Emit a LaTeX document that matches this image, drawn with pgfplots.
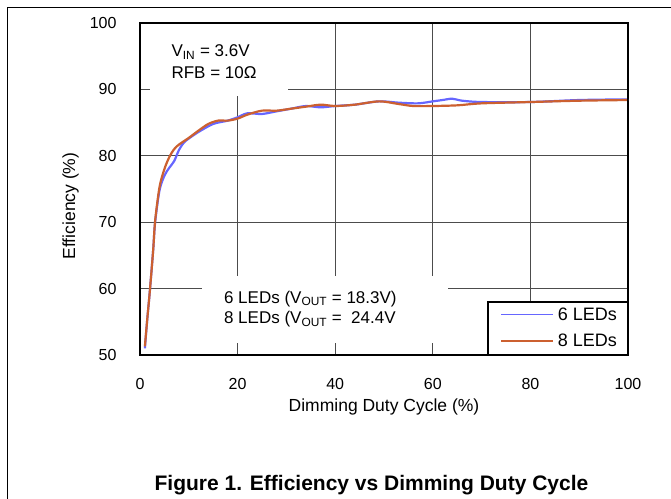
\documentclass[border=0pt]{standalone}
\usepackage{pgfplots}
\pgfplotsset{compat=1.18}
\usepackage{fontspec}
\setmainfont{Liberation Sans}
\definecolor{blueline}{RGB}{102,102,255}
\definecolor{orangeline}{RGB}{204,96,48}
\begin{document}
\begin{tikzpicture}
\useasboundingbox (-140pt,-143pt) rectangle (531pt,355pt);
\draw[line width=1pt] (-132pt,-150pt) -- (-132pt,347pt) -- (540pt,347pt);
\begin{axis}[
 at={(0pt,0pt)}, anchor=south west,
 scale only axis, width=488pt, height=332pt,
 xmin=0,xmax=100,ymin=50,ymax=100,
 xtick={0,20,...,100}, ytick={50,60,...,100},
 grid=major, major grid style={black!70, line width=0.8pt},
 major tick length=0pt,
 axis line style={line width=1.6pt},
 tick label style={font=\fontsize{16}{19}\selectfont},
 /pgf/number format/assume math mode=true,
 xticklabel style={yshift=-20pt},
 yticklabel style={xshift=-20pt},
 xlabel={Dimming Duty Cycle (\%)},
 ylabel={Efficiency (\%)},
 label style={font=\fontsize{17.5}{21}\selectfont},
 xlabel style={at={(axis description cs:0.5,-0.169)}, anchor=base},
 ylabel style={at={(axis description cs:-0.133,0.449)}, anchor=base},
 legend style={at={(rel axis cs:1,0)}, anchor=south east, draw=none, fill=none, font=\fontsize{18}{21}\selectfont, inner xsep=11pt, inner ysep=7pt, row sep=12pt, column sep=4pt, nodes={inner sep=0pt}, cells={anchor=west}},
 legend image code/.code={\draw[#1, line width=1.5pt] (0pt,0pt) -- (52pt,0pt);},
]
\fill[white] (axis cs:2.05,89) rectangle (axis cs:30.3,100);
\fill[white] (axis cs:12.7,51.8) rectangle (axis cs:63.1,61.9);
\fill[white] (axis cs:71.3,50) rectangle (axis cs:100,57.98);
\addplot[blueline, line width=2.2pt, smooth] coordinates {
(1,51.0) (1.5,55.5) (2,59.5) (2.7,65.8) (3.1,70) (4,74.8) (5,77.0) (6,78.2) (7,79.2) (8,80.9) (9,82.0) (10,82.6) (12,83.6) (15,84.8) (18,85.3) (20,85.8) (22,86.4) (25,86.3) (28,86.7) (31,87.1) (34,87.5) (37,87.3) (40,87.5) (44,87.7) (49,88.2) (53,88.0) (57,87.9) (60,88.2) (62,88.4) (64,88.6) (66,88.3) (70,88.1) (80,88.1) (90,88.4) (100,88.5)
};
\addlegendentry{6 LEDs}
\addplot[orangeline, line width=2.2pt, smooth] coordinates {
(1,51.3) (1.5,55.5) (2,59.5) (2.7,65.8) (3.1,70.2) (4,75.3) (5,78.0) (6,79.8) (7,81.0) (8,81.7) (10,82.7) (12,83.8) (14,84.8) (16,85.3) (18,85.3) (20,85.6) (22,86.2) (25,86.8) (28,86.8) (31,87.1) (34,87.4) (37,87.7) (40,87.5) (44,87.7) (49,88.2) (53,87.8) (56,87.5) (60,87.5) (65,87.6) (70,87.9) (80,88.1) (90,88.3) (100,88.4)
};
\addlegendentry{8 LEDs}
\draw[line width=1.6pt] (rel axis cs:0,0) rectangle (rel axis cs:1,1);
\draw[line width=1.6pt] (axis cs:71.3,50) rectangle (axis cs:100,57.98);
\node[anchor=base west, font=\fontsize{17}{20}\selectfont] at (axis cs:5.74,94.9) {V\textsubscript{IN} = 3.6V};
\node[anchor=base west, font=\fontsize{17}{20}\selectfont] at (axis cs:5.74,91.7) {RFB = 10Ω};
\node[anchor=base west, font=\fontsize{17}{20}\selectfont] at (axis cs:16.5,57.8) {6 LEDs (V\textsubscript{OUT} = 18.3V)};
\node[anchor=base west, font=\fontsize{17}{20}\selectfont] at (axis cs:16.5,54.7) {8 LEDs (V\textsubscript{OUT} =\ \ 24.4V};
\end{axis}
\node[anchor=base, font=\bfseries\fontsize{21}{25}\selectfont] at (231.5pt,-135pt) {Figure 1. Efficiency vs Dimming Duty Cycle};
\end{tikzpicture}
\end{document}
